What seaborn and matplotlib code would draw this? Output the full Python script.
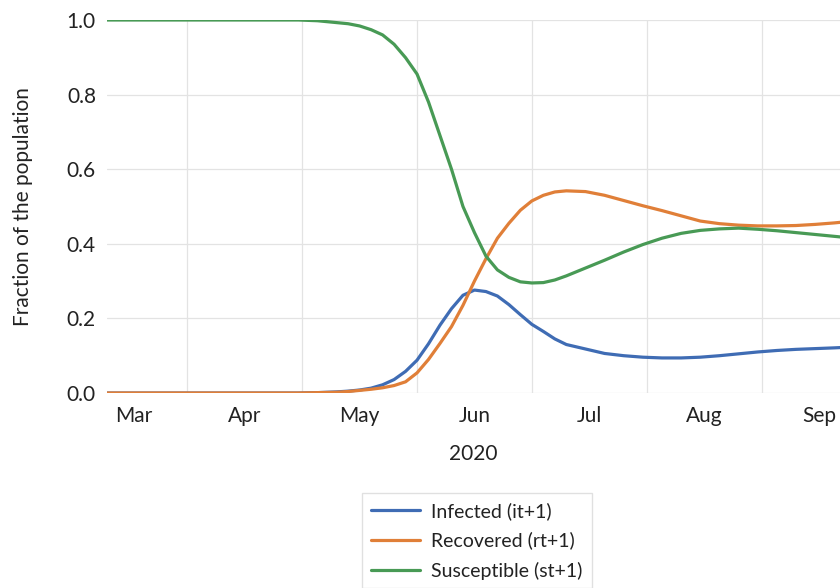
import seaborn as sns
import matplotlib.pyplot as plt
import pandas as pd

# days since start of the series (x axis)
days = [0, 10, 20, 30, 40, 45, 50, 55,
        60, 63, 66, 69, 72, 75, 78, 81, 84, 87, 90, 93, 96, 99, 102, 105,
        108, 111, 114, 117, 120,
        125, 130, 135, 140, 145, 150, 155, 160, 165, 170, 175, 180, 185, 190, 192]

infected = [0, 0, 0, 0, 0, 0, 0, 0.001,
            0.003, 0.005, 0.008, 0.013, 0.022, 0.036, 0.058, 0.088, 0.132, 0.182, 0.226, 0.262, 0.276, 0.272, 0.26, 0.237,
            0.21, 0.184, 0.165, 0.145, 0.13,
            0.118, 0.106, 0.1, 0.096, 0.094, 0.094, 0.096, 0.1, 0.105, 0.11, 0.114, 0.117, 0.119, 0.121, 0.122]

recovered = [0, 0, 0, 0, 0, 0, 0, 0.001,
             0.002, 0.004, 0.007, 0.01, 0.014, 0.02, 0.03, 0.054, 0.09, 0.133, 0.178, 0.235, 0.30, 0.36, 0.415, 0.455,
             0.49, 0.515, 0.53, 0.539, 0.542,
             0.54, 0.53, 0.516, 0.502, 0.489, 0.475, 0.461, 0.454, 0.45, 0.448, 0.448, 0.449, 0.452, 0.456, 0.458]

susceptible = [1.0, 1.0, 1.0, 1.0, 1.0, 1.0, 1.0, 0.998,
               0.993, 0.99, 0.984, 0.974, 0.96, 0.935, 0.899, 0.855, 0.78, 0.69, 0.60, 0.50, 0.43, 0.367, 0.33, 0.31,
               0.298, 0.295, 0.296, 0.303, 0.314,
               0.335, 0.356, 0.378, 0.398, 0.415, 0.428, 0.436, 0.44, 0.442, 0.439, 0.435, 0.43, 0.425, 0.42, 0.418]

series_names = ['Infected (it+1)', 'Recovered (rt+1)', 'Susceptible (st+1)']
colors = ['#3F6CB4', '#E07F38', '#489A55']

month_labels = ['Mar', 'Apr', 'May', 'Jun', 'Jul', 'Aug', 'Sep']
month_label_pos = [7, 36, 66, 96, 126, 156, 186]
grid_days = [21, 51, 81, 111, 141, 171]

df = pd.DataFrame({'day': days * 3,
                   'value': infected + recovered + susceptible,
                   'series': [n for n in series_names for _ in days]})

sns.set_style('white')
plt.rcParams['font.family'] = ['Lato', 'DejaVu Sans']
text_color = '#222222'

fig = plt.figure(figsize=(8.4, 5.88), dpi=100)
ax = fig.add_axes([107 / 840, 1 - 393 / 588, 1 - 107 / 840, 373 / 588])

sns.lineplot(data=df, x='day', y='value', hue='series', hue_order=series_names,
             palette=colors, linewidth=2.3, ax=ax)

ax.set_xlim(0, 191.5)
ax.set_ylim(0, 1.0)
ax.set_yticks([0, 0.2, 0.4, 0.6, 0.8, 1.0])
ax.set_yticklabels(['0.0', '0.2', '0.4', '0.6', '0.8', '1.0'])
ax.set_xticks(grid_days)
ax.set_xticklabels([])
ax.set_xticks(month_label_pos, minor=True)
ax.set_xticklabels(month_labels, minor=True)
ax.tick_params(axis='both', which='both', length=0, labelsize=15, colors=text_color)
ax.tick_params(axis='x', which='minor', pad=9)
ax.tick_params(axis='y', pad=8)
ax.grid(True, which='major', color='#e3e3e3', linewidth=0.9)
ax.set_axisbelow(True)
for s in ax.spines.values():
    s.set_visible(False)

ax.set_xlabel('2020', fontsize=15, color=text_color, labelpad=13)
ax.set_ylabel('Fraction of the population', fontsize=15, color=text_color, labelpad=24)

handles, labels = ax.get_legend_handles_labels()
ax.legend_.remove()
leg = fig.legend(handles, labels, loc='upper center', bbox_to_anchor=(477 / 840, 1 - 493 / 588),
                 fontsize=14, frameon=True, fancybox=False, edgecolor='#d9d9d9',
                 handlelength=2.5, labelspacing=0.62, borderpad=0.45, handletextpad=0.6,
                 borderaxespad=0)
for t in leg.get_texts():
    t.set_color(text_color)

fig.savefig('out.png', dpi=100)
